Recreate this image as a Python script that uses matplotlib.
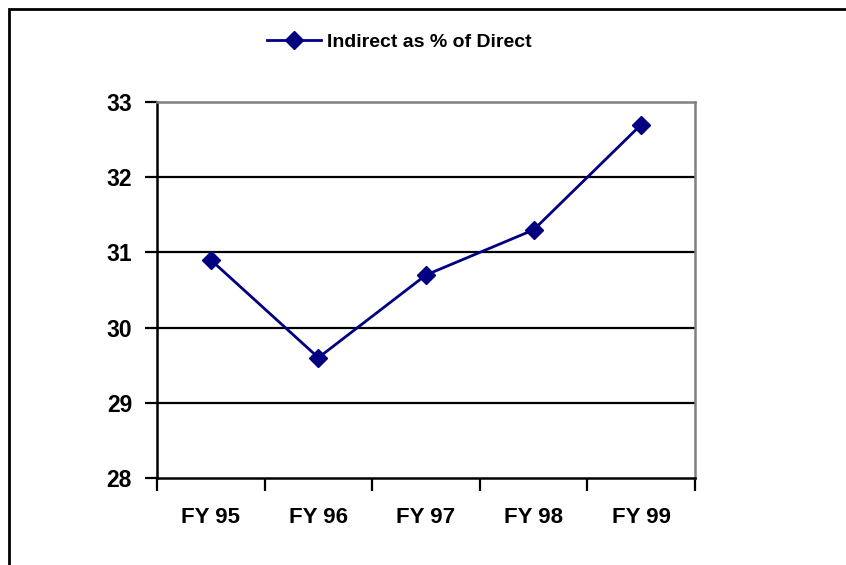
import matplotlib
matplotlib.use("Agg")
import matplotlib.pyplot as plt
from matplotlib.patches import Rectangle

categories = ["FY 95", "FY 96", "FY 97", "FY 98", "FY 99"]
values = [30.9, 29.6, 30.7, 31.3, 32.7]
series_name = "Indirect as % of Direct"
y_ticks = [28, 29, 30, 31, 32, 33]

tick_family = "Liberation Sans"

fig = plt.figure(figsize=(8.46, 5.65), dpi=100)
ax = fig.add_axes([157/846, 1-478/565, (695-157)/846, (478-102)/565])

x = list(range(len(categories)))
line, = ax.plot(x, values, color="#000080", lw=2.0, marker="D", markersize=9,
                markerfacecolor="#000080", markeredgecolor="#000080", zorder=5,
                label=series_name)

ax.set_xlim(-0.5, len(categories) - 0.5)
ax.set_ylim(28, 33)
ax.set_yticks(y_ticks)
ax.set_yticklabels([str(t) for t in y_ticks], fontfamily=tick_family,
                   fontweight="bold", fontsize=16.5)
for t in y_ticks[1:-1]:
    ax.axhline(t, color="black", lw=1.6, zorder=1)

ax.set_xticks([i - 0.5 for i in range(len(categories) + 1)])
ax.set_xticklabels([])
ax.set_xticks(x, minor=True)
ax.set_xticklabels(categories, minor=True, fontfamily=tick_family,
                   fontweight="bold", fontsize=16)
ax.tick_params(axis="x", which="minor", length=0, pad=21)
ax.tick_params(axis="x", which="major", length=9, width=1.6, direction="out", color="black")
ax.tick_params(axis="y", length=9, width=1.6, direction="out", color="black", pad=9)

ax.spines["left"].set_color("black")
ax.spines["left"].set_linewidth(1.8)
ax.spines["bottom"].set_color("black")
ax.spines["bottom"].set_linewidth(1.8)
ax.spines["top"].set_color("#808080")
ax.spines["top"].set_linewidth(1.8)
ax.spines["right"].set_color("#808080")
ax.spines["right"].set_linewidth(1.8)

leg = fig.legend(handles=[line], loc="center", bbox_to_anchor=(399/846, 1-42/565),
                 frameon=False, prop={"family": "Liberation Sans", "weight": "bold", "size": 14},
                 handlelength=2.8, handletextpad=0.3, borderpad=0)

fig.patches.append(Rectangle((9/846, -0.1), 1.2, 1.1 - 9/565, transform=fig.transFigure,
                             fill=False, edgecolor="black", lw=2.0))

fig.savefig("out.png", dpi=100)
